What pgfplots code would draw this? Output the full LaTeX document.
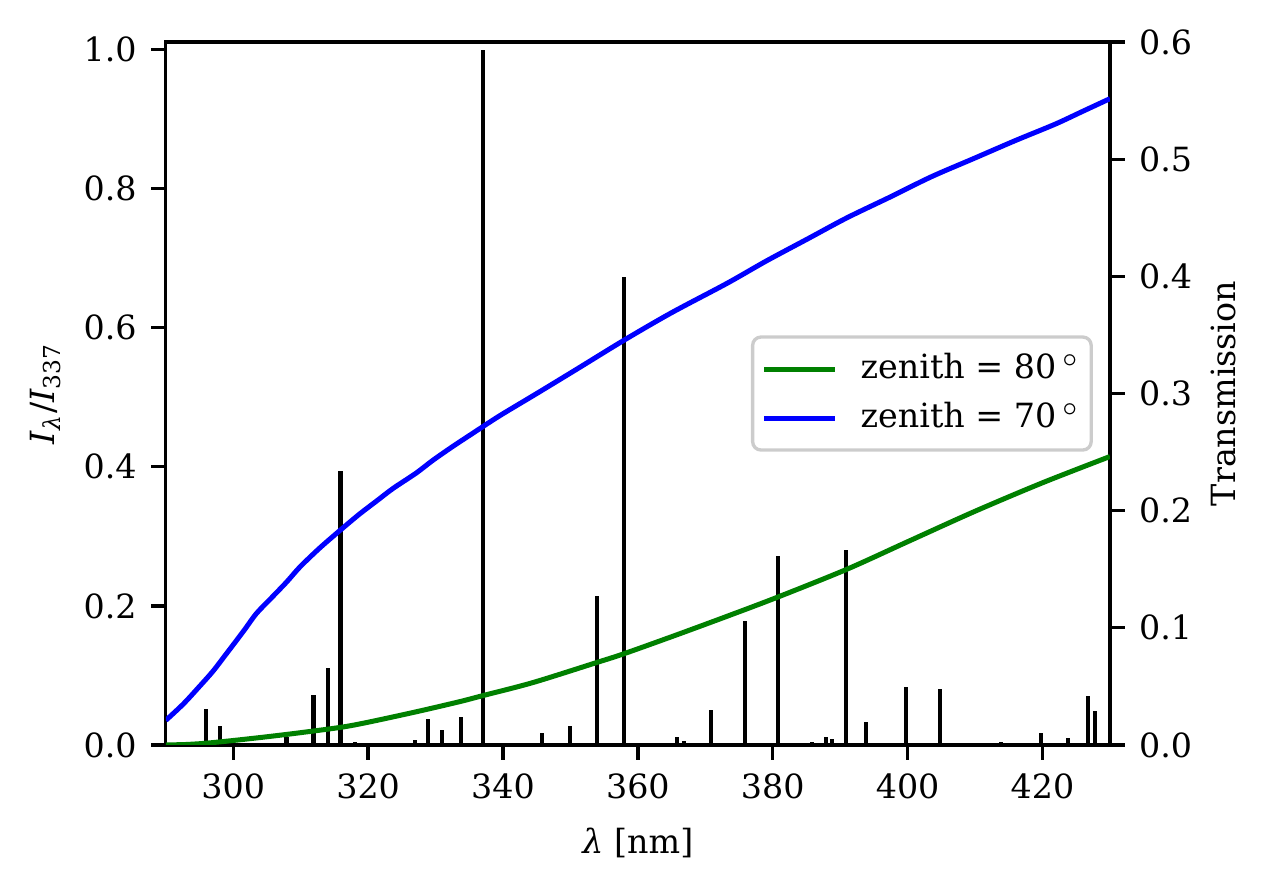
\documentclass[border=0pt]{standalone}
\usepackage{fontspec}
\setmainfont{DejaVu Serif}
\usepackage{pgfplots}
\pgfplotsset{compat=1.18}
\usetikzlibrary{calc}
\definecolor{mplgreen}{RGB}{0,128,0}
\definecolor{mplblue}{RGB}{0,0,255}
\definecolor{legframe}{RGB}{204,204,204}
\newcommand{\fs}{\fontsize{8bp}{9.6bp}\selectfont}

\pgfplotsset{
  common/.style={
    scale only axis, width=226.6bp, height=168.7bp,
    xmin=290, xmax=430,
    tick align=outside, major tick length=3.5bp,
    every tick/.style={black, line width=0.8bp},
    axis line style={line width=0.8bp},
    tick label style={font=\fs},
    label style={font=\fs},
    /pgf/number format/assume math mode=true,
  }
}

\begin{document}
\begin{tikzpicture}[font=\fs]
\begin{axis}[common, name=ax1,
  ymin=0, ymax=1.0108,
  xtick={300,320,340,360,380,400,420},
  ytick={0,0.2,0.4,0.6,0.8,1.0},
  yticklabel style={/pgf/number format/fixed, /pgf/number format/fixed zerofill, /pgf/number format/precision=1},
  xtick pos=bottom, ytick pos=left,
  xlabel={\textit{λ} [nm]},
  ylabel={\textit{I}\textsubscript{\textit{λ}}/\textit{I}\textsubscript{337}},
  ylabel style={yshift=-1.4bp},
]
\addplot[ycomb, black, line width=1bp, mark=none] coordinates {
(296.0,0.051) (298.0,0.027) (307.9,0.011) (311.9,0.072) (314.0,0.110)
(315.9,0.394) (318.0,0.004) (326.9,0.007) (328.9,0.037) (330.9,0.021)
(333.8,0.040) (337.0,1.000) (345.8,0.017) (349.9,0.027) (353.9,0.214)
(357.9,0.673) (365.8,0.011) (366.8,0.006) (370.8,0.050) (375.9,0.178)
(380.8,0.272) (385.8,0.004) (387.9,0.011) (388.8,0.008) (390.9,0.280)
(393.8,0.033) (399.8,0.083) (404.8,0.080) (413.8,0.004) (419.8,0.017)
(423.8,0.010) (426.8,0.070) (427.8,0.049)
};
\end{axis}
\begin{axis}[common,
  ymin=0, ymax=0.6,
  axis x line=none, axis y line*=right,
  ytick={0,0.1,0.2,0.3,0.4,0.5,0.6},
  yticklabel style={/pgf/number format/fixed, /pgf/number format/fixed zerofill, /pgf/number format/precision=1},
  ylabel={Transmission},
  ylabel style={yshift=2.4bp},
  legend style={at={(rel axis cs:1,0.5)}, anchor=east, xshift=-4.1bp,
    draw=legframe, line width=0.8bp, rounded corners=2bp, fill=white,
    fill opacity=0.8, text opacity=1, font=\fs, inner xsep=2.2bp, inner ysep=1.9bp,
    row sep=0.2bp, cells={anchor=west},
    nodes={inner xsep=0.5bp},
    /tikz/every odd column/.append style={column sep=5bp}},
]
\addplot[mplgreen, line width=1.2bp, smooth] coordinates {
(290,0.000) (293,0.0004) (296,0.0015) (300,0.0038) (305,0.0070) (310,0.0105)
(316,0.0151) (320,0.0194) (327.2,0.0284) (333.6,0.0370) (337,0.0421)
(344.4,0.0532) (353.8,0.0702) (358,0.0780) (366,0.0945) (374,0.1115)
(381,0.1268) (391,0.1500) (400,0.1735) (410,0.1995) (420,0.2238) (430,0.2462)
};
\addlegendentry{zenith = 80\,$^\circ$}
\addplot[mplblue, line width=1.2bp, smooth] coordinates {
(290,0.021) (292.6,0.035) (295,0.050) (297,0.063) (299,0.078) (301.5,0.097)
(303.4,0.112) (305.4,0.124) (307.9,0.139) (309.9,0.152) (312.8,0.168)
(315.8,0.183) (318.7,0.197) (321.2,0.208) (323.7,0.219) (327.1,0.232)
(329.6,0.243) (332.6,0.255) (335.5,0.266) (339.5,0.281) (345,0.300)
(351,0.321) (358,0.3457) (365,0.369) (373.2,0.394) (379,0.413) (385.3,0.4324)
(391,0.450) (397.5,0.468) (403.5,0.485) (409.8,0.5006) (416,0.516)
(421.9,0.530) (426,0.541) (430,0.5517)
};
\addlegendentry{zenith = 70\,$^\circ$}
\end{axis}
\pgfresetboundingbox
\path ($(ax1.south west)+(-39.8bp,-34.8bp)$) rectangle ($(ax1.north east)+(38.9bp,10.1bp)$);
\end{tikzpicture}
\end{document}
